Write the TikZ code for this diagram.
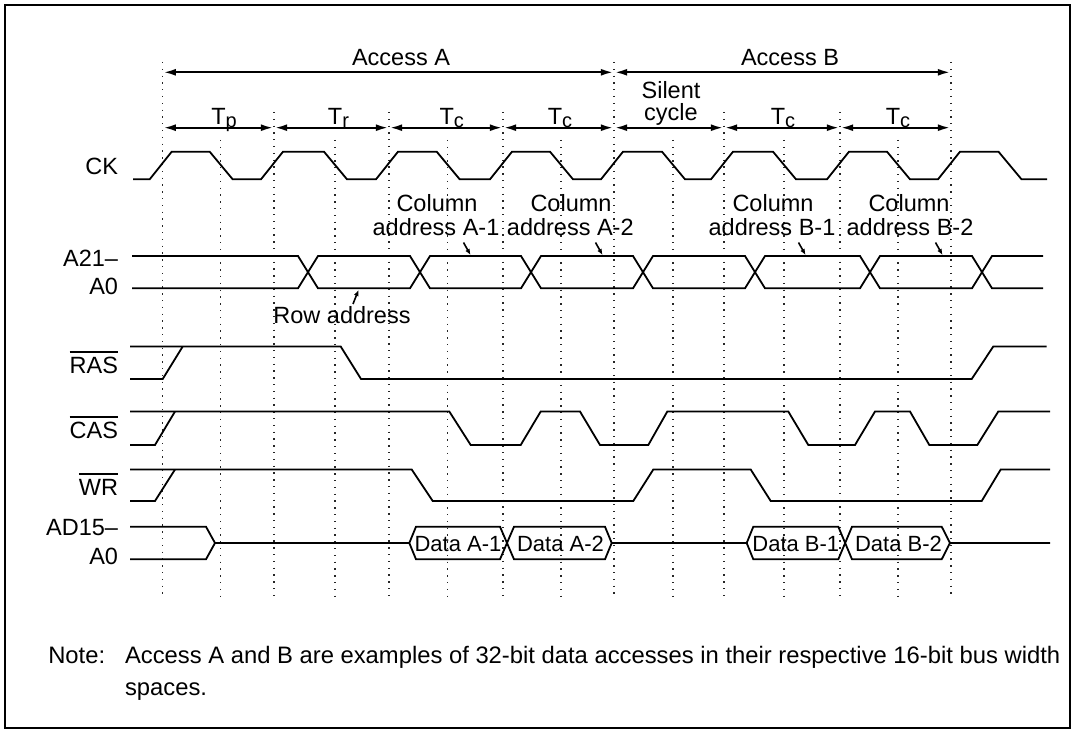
\documentclass[tikz,border=0pt]{standalone}
\usepackage{fontspec}
\setmainfont{Liberation Sans}
\usetikzlibrary{arrows.meta}
\newcommand\tsubs[1]{T\raisebox{-3bp}{\fontsize{20bp}{20bp}\selectfont #1}}
\begin{document}
\begin{tikzpicture}[x=1bp,y=-1bp,
  every node/.style={inner sep=0pt, outer sep=0pt, font=\fontsize{23.5bp}{28bp}\selectfont},
  sig/.style={line width=1.8bp, line join=miter},
  dotline/.style={line width=1.3bp, dash pattern=on 1.3bp off 5.5bp, black!85},
  dimarrow/.style={line width=1.8bp, {Latex[length=12bp,width=7bp]}-{Latex[length=12bp,width=7bp]}, shorten <=1.2bp, shorten >=1.2bp},
  ptr/.style={line width=1.6bp, -{Latex[length=6bp,width=5bp]}},
  ovl/.style={line width=1.5bp},
  framebox/.style={line width=1.8bp},
  lbl/.style={anchor=base east},
  txt/.style={anchor=base},
  datatxt/.style={anchor=base, font=\fontsize{22bp}{26bp}\selectfont},
]
\useasboundingbox (0,0) rectangle (1073,732);
\draw[framebox] (5,5) rectangle (1070,728);

% grid coordinates
\foreach \n/\x in {e0/162.7, h0/220.7, e1/274, h1/335, e2/389, h2/447.7, e3/503, h3/561,
                   e4/614, h4/673, e5/724, h5/784, e6/840, h6/898, e7/951}
  {\coordinate (\n) at (\x,0);}

% dotted guide lines
\foreach \n in {e0,e4,e7} \draw[dotline] (\n |- 0,62) -- (\n |- 0,598);
\foreach \n in {e1,e2,e3,e5,e6} \draw[dotline] (\n |- 0,112) -- (\n |- 0,598);
\foreach \n in {h0,h1,h2,h3,h4,h5,h6} \draw[dotline] (\n |- 0,140) -- (\n |- 0,598);

% access arrows
\draw[dimarrow] (e0 |- 0,72.3) -- (e4 |- 0,72.3);
\draw[dimarrow] (e4 |- 0,72.3) -- (e7 |- 0,72.3);
\node[txt] (accA) at (401,66) {Access A};
\node[txt] (accB) at (790,66) {Access B};

% cycle arrows
\foreach \a/\b in {e0/e1,e1/e2,e2/e3,e3/e4,e4/e5,e5/e6,e6/e7}
  \draw[dimarrow] (\a |- 0,127.7) -- (\b |- 0,127.7);
\node[txt] (tp) at (224,125) {\tsubs{p}};
\node[txt] (tr) at (338.5,125) {\tsubs{r}};
\node[txt] (tc1) at (451.7,125) {\tsubs{c}};
\node[txt] (tc2) at (560,125) {\tsubs{c}};
\node[txt] (sil1) at (671,99) {Silent};
\node[txt] (sil2) at (671,121) {cycle};
\node[txt] (tc3) at (783,125) {\tsubs{c}};
\node[txt] (tc4) at (898,125) {\tsubs{c}};

% signal names
\node[lbl] (ck) at (118,174.5) {CK};
\node[lbl] (a21) at (118,266) {A21–};
\node[lbl] (a0) at (118,294) {A0};
\node[lbl] (ras) at (118,373.3) {RAS};
\node[lbl] (cas) at (118,438.5) {CAS};
\node[lbl] (wr) at (118,495) {WR};
\node[lbl] (ad15) at (118,535) {AD15–};
\node[lbl] (ad0) at (118,564) {A0};
\foreach \n in {ras,cas,wr}
  \draw[ovl] ([yshift=5bp]\n.north west) -- ([yshift=5bp]\n.north east);

% clock
\draw[sig] (133,179.3)
  \foreach \e/\h in {162.7/220.7, 274/335, 389/447.7, 503/561, 614/673, 724/784, 840/898, 951/1009.5}
    { -- (\e-13,179.3) -- (\e+9,151.7) -- (\h-11,151.7) -- (\h+12,179.3) }
  -- (1047,179.3);

% address bus A21-A0
\draw[sig] (132,256) -- (298,256) -- (318,288.3) -- (410,288.3) -- (430,256) -- (521,256)
  -- (541,288.3) -- (633,288.3) -- (653,256) -- (745,256) -- (765,288.3) -- (860,288.3)
  -- (880,256) -- (972,256) -- (992,288.3) -- (1043,288.3);
\draw[sig] (132,288.3) -- (298,288.3) -- (318,256) -- (410,256) -- (430,288.3) -- (521,288.3)
  -- (541,256) -- (633,256) -- (653,288.3) -- (745,288.3) -- (765,256) -- (860,256)
  -- (880,288.3) -- (972,288.3) -- (992,256) -- (1043,256);

% column / row address labels
\node[txt] (cA1a) at (437,211.7) {Column};
\node[txt] (cA1b) at (436,235) {address A-1};
\node[txt] (cA2a) at (571,211.7) {Column};
\node[txt] (cA2b) at (570.3,235) {address A-2};
\node[txt] (cB1a) at (773,211.7) {Column};
\node[txt] (cB1b) at (772,235) {address B-1};
\node[txt] (cB2a) at (909,211.7) {Column};
\node[txt] (cB2b) at (910,235) {address B-2};
\node[txt] (row) at (342,323.3) {Row address};
\coordinate (pA1s) at (463.5,242.5); \coordinate (pA1e) at (470.5,255);
\coordinate (pA2s) at (595.5,242.5); \coordinate (pA2e) at (602.5,255);
\coordinate (pB1s) at (798.5,242.5); \coordinate (pB1e) at (805.5,255);
\coordinate (pB2s) at (935.5,242.5); \coordinate (pB2e) at (942.5,255);
\coordinate (pRs) at (353,304); \coordinate (pRe) at (358.5,290);
\foreach \p in {pA1,pA2,pB1,pB2,pR} \draw[ptr] (\p s) -- (\p e);

% RAS
\draw[sig] (130,346.5) -- (340.7,346.5) -- (361,379) -- (971.7,379) -- (993.3,346.5) -- (1046.7,346.5);
\draw[sig] (130,379) -- (162.7,379) -- (182.7,346.5);
% CAS
\draw[sig] (130,411.5) -- (449.3,411.5) -- (470.7,445) -- (520.7,445) -- (540.7,411.5) -- (580,411.5)
  -- (600,445) -- (648.3,445) -- (667.3,411.5) -- (788.3,411.5) -- (808.3,445) -- (855,445)
  -- (875,411.5) -- (910,411.5) -- (929.3,445) -- (977.3,445) -- (998.3,411.5) -- (1050,411.5);
\draw[sig] (130,445) -- (155,445) -- (175,411.5);
% WR
\draw[sig] (130,469.5) -- (411.7,469.5) -- (432.7,501) -- (633.3,501) -- (653.3,469.5) -- (750.7,469.5)
  -- (770.7,501) -- (981.7,501) -- (1000.7,469.5) -- (1050,469.5);
\draw[sig] (130,501) -- (155,501) -- (175,469.5);

% AD bus
\draw[sig] (130,526.7) -- (206,526.7) -- (215,543) -- (409.3,543) -- (416,526.7) -- (500,526.7)
  -- (514,559.3) -- (605,559.3) -- (611.7,543) -- (746.7,543) -- (753.3,526.7) -- (838.3,526.7)
  -- (852,559.3) -- (941.7,559.3) -- (950,543) -- (1050,543);
\draw[sig] (130,559.3) -- (206,559.3) -- (215,543);
\draw[sig] (409.3,543) -- (416,559.3) -- (500,559.3) -- (514,526.7) -- (605,526.7) -- (611.7,543);
\draw[sig] (746.7,543) -- (753.3,559.3) -- (838.3,559.3) -- (852,526.7) -- (941.7,526.7) -- (950,543);
\node[datatxt] (dA1) at (458,551) {Data A-1};
\node[datatxt] (dA2) at (560.5,551) {Data A-2};
\node[datatxt] (dB1) at (795.8,551) {Data B-1};
\node[datatxt] (dB2) at (898.5,551) {Data B-2};

% note
\node[anchor=base west, font=\fontsize{23.8bp}{28bp}\selectfont] (note) at (48.3,663) {Note:};
\node[anchor=base west, font=\fontsize{23.8bp}{28bp}\selectfont] (note1) at (125,663)
  {Access A and B are examples of 32-bit data accesses in their respective 16-bit bus width};
\node[anchor=base west, font=\fontsize{23.8bp}{28bp}\selectfont] (note2) at (125,695) {spaces.};
\end{tikzpicture}
\end{document}
